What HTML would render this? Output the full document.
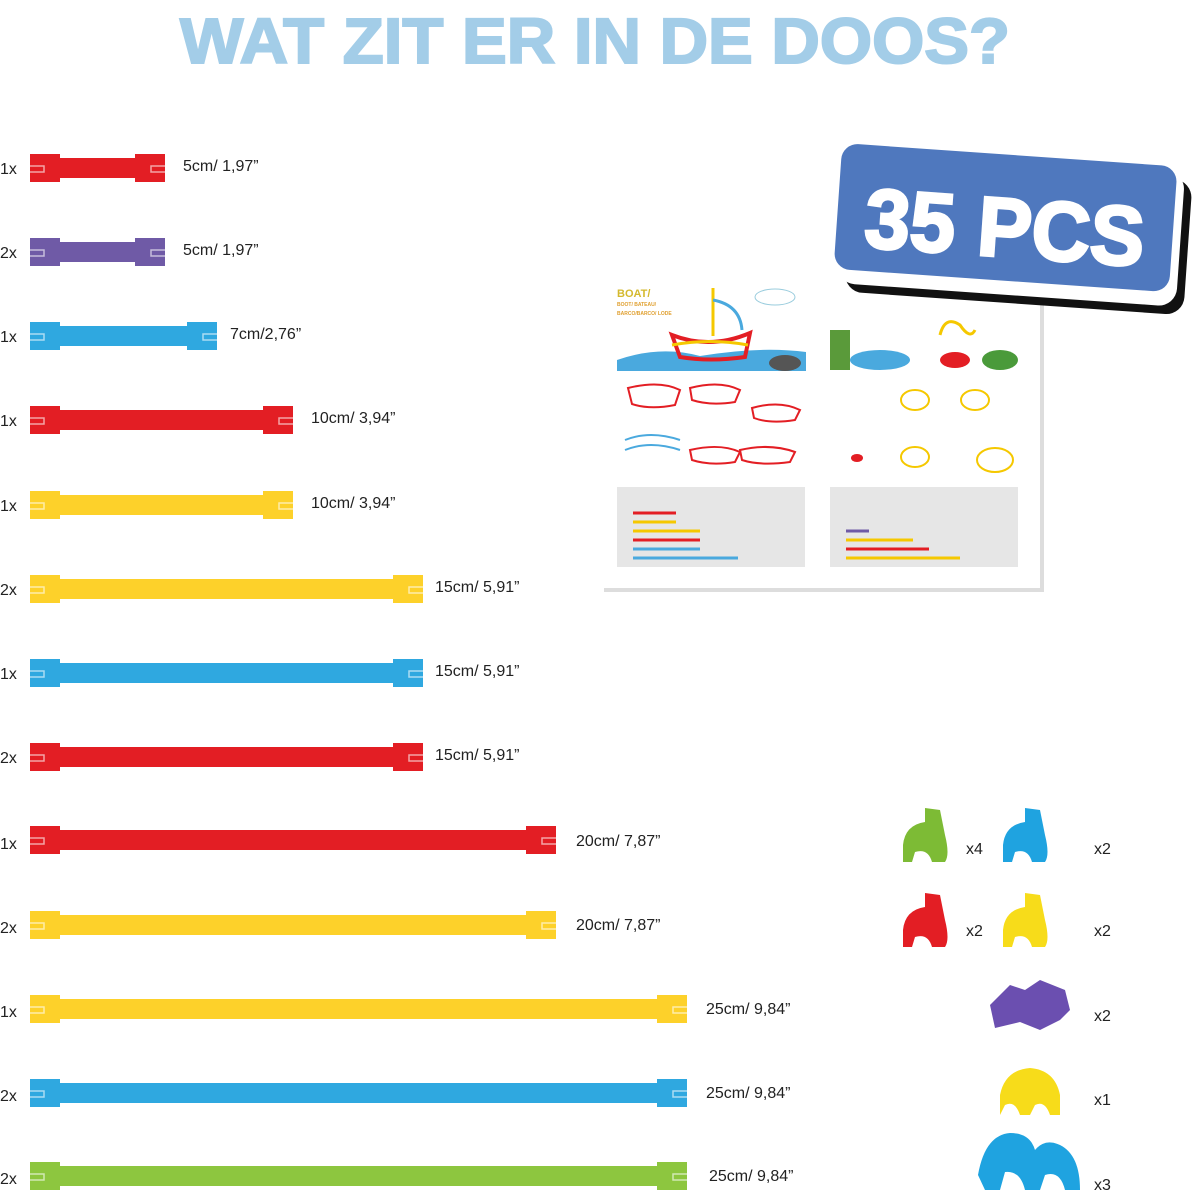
<!DOCTYPE html>
<html><head><meta charset="utf-8"><style>
html,body{margin:0;padding:0;background:#fff;}
svg{display:block}
</style></head><body>
<svg width="1199" height="1200" viewBox="0 0 1199 1200" xmlns="http://www.w3.org/2000/svg" font-family="Liberation Sans, sans-serif">
<rect width="1199" height="1200" fill="#fff"/>
<text x="595" y="63" text-anchor="middle" font-size="64" font-weight="bold" fill="#a3cde8" textLength="830" lengthAdjust="spacingAndGlyphs" stroke="#a3cde8" stroke-width="2">WAT ZIT ER IN DE DOOS?</text>

<!-- booklet -->
<rect x="604" y="272" width="440" height="320" fill="#ddd"/>
<rect x="600" y="268" width="440" height="320" fill="#fff"/>
<text x="617" y="297" font-size="11" font-weight="bold" fill="#d4b92e">BOAT/</text>
<text x="617" y="306" font-size="5" font-weight="bold" fill="#e0a030">BOOT/ BATEAU/</text>
<text x="617" y="315" font-size="5" font-weight="bold" fill="#e0a030">BARCO/BARCO/ LODE</text>
<path d="M617 360 Q660 345 700 356 Q760 346 806 352 L806 371 L617 371Z" fill="#4aa9de"/>
<path d="M672 335 Q710 350 750 333 L745 357 Q710 362 680 357Z" fill="none" stroke="#e31e24" stroke-width="4"/>
<path d="M672 345 Q710 338 748 345" fill="none" stroke="#f5c800" stroke-width="3"/>
<line x1="713" y1="288" x2="713" y2="336" stroke="#f5c800" stroke-width="3"/>
<path d="M713 300 Q740 305 742 330" fill="none" stroke="#4aa9de" stroke-width="3"/>
<ellipse cx="775" cy="297" rx="20" ry="8" fill="#fff" stroke="#9cd" />
<ellipse cx="785" cy="363" rx="16" ry="8" fill="#555"/>
<path d="M830 330 L850 330 L850 370 L830 370Z" fill="#5a9a3a"/>
<ellipse cx="880" cy="360" rx="30" ry="10" fill="#4aa9de"/>
<ellipse cx="955" cy="360" rx="15" ry="8" fill="#e31e24"/>
<path d="M940 335 Q945 315 960 325 Q970 340 975 330" fill="none" stroke="#f5c800" stroke-width="3"/>
<ellipse cx="1000" cy="360" rx="18" ry="10" fill="#4a9a3a"/>
<path d="M628 388 Q660 380 680 390 L675 405 Q650 410 632 404Z" fill="none" stroke="#e31e24" stroke-width="2"/>
<path d="M690 388 Q720 380 740 390 L735 402 Q710 406 692 400Z" fill="none" stroke="#e31e24" stroke-width="2"/>
<path d="M752 408 Q780 400 800 410 L795 420 Q770 424 754 418Z" fill="none" stroke="#e31e24" stroke-width="2"/>
<path d="M690 450 Q720 443 740 452 L735 462 Q710 466 692 460Z" fill="none" stroke="#e31e24" stroke-width="2"/>
<path d="M740 450 Q770 443 795 452 L790 462 Q760 466 742 460Z" fill="none" stroke="#e31e24" stroke-width="2"/>
<path d="M625 440 Q650 430 680 440 M625 450 Q650 440 680 450" fill="none" stroke="#4aa9de" stroke-width="2"/>
<ellipse cx="915" cy="400" rx="14" ry="10" fill="none" stroke="#f5c800" stroke-width="2"/>
<ellipse cx="975" cy="400" rx="14" ry="10" fill="none" stroke="#f5c800" stroke-width="2"/>
<ellipse cx="915" cy="457" rx="14" ry="10" fill="none" stroke="#f5c800" stroke-width="2"/>
<ellipse cx="995" cy="460" rx="18" ry="12" fill="none" stroke="#f5c800" stroke-width="2"/>
<ellipse cx="857" cy="458" rx="6" ry="4" fill="#e31e24"/>
<rect x="617" y="487" width="188" height="80" fill="#e6e6e6"/>
<rect x="830" y="487" width="188" height="80" fill="#e6e6e6"/>
<g stroke-width="3">
<line x1="633" y1="513" x2="676" y2="513" stroke="#e31e24"/>
<line x1="633" y1="522" x2="676" y2="522" stroke="#f5c800"/>
<line x1="633" y1="531" x2="700" y2="531" stroke="#f5c800"/>
<line x1="633" y1="540" x2="700" y2="540" stroke="#e31e24"/>
<line x1="633" y1="549" x2="700" y2="549" stroke="#4aa9de"/>
<line x1="633" y1="558" x2="738" y2="558" stroke="#4aa9de"/>
<line x1="846" y1="531" x2="869" y2="531" stroke="#6f5aa6"/>
<line x1="846" y1="540" x2="913" y2="540" stroke="#f5c800"/>
<line x1="846" y1="549" x2="929" y2="549" stroke="#e31e24"/>
<line x1="846" y1="558" x2="960" y2="558" stroke="#f5c800"/>
</g>

<!-- badge -->
<g transform="rotate(4 1010 240)">
<rect x="848" y="168" width="340" height="135" rx="18" fill="#111"/>
<rect x="840" y="160" width="340" height="135" rx="18" fill="#fff"/>
<rect x="836" y="155" width="336" height="126" rx="16" fill="#4f78be"/>
<text x="1004" y="257" text-anchor="middle" font-size="84" font-weight="bold" fill="#fff" stroke="#fff" stroke-width="3" textLength="280" lengthAdjust="spacingAndGlyphs">35 PCS</text>
</g>

<g font-size="16" fill="#222">
<g fill="#e31e24"><rect x="30" y="158" width="135" height="20"/><rect x="30" y="154" width="30" height="28"/><rect x="135" y="154" width="30" height="28"/></g>
<g fill="#6f5aa6"><rect x="30" y="242" width="135" height="20"/><rect x="30" y="238" width="30" height="28"/><rect x="135" y="238" width="30" height="28"/></g>
<g fill="#2fa8e0"><rect x="30" y="326" width="187" height="20"/><rect x="30" y="322" width="30" height="28"/><rect x="187" y="322" width="30" height="28"/></g>
<g fill="#e31e24"><rect x="30" y="410" width="263" height="20"/><rect x="30" y="406" width="30" height="28"/><rect x="263" y="406" width="30" height="28"/></g>
<g fill="#fdd12a"><rect x="30" y="495" width="263" height="20"/><rect x="30" y="491" width="30" height="28"/><rect x="263" y="491" width="30" height="28"/></g>
<g fill="#fdd12a"><rect x="30" y="579" width="393" height="20"/><rect x="30" y="575" width="30" height="28"/><rect x="393" y="575" width="30" height="28"/></g>
<g fill="#2fa8e0"><rect x="30" y="663" width="393" height="20"/><rect x="30" y="659" width="30" height="28"/><rect x="393" y="659" width="30" height="28"/></g>
<g fill="#e31e24"><rect x="30" y="747" width="393" height="20"/><rect x="30" y="743" width="30" height="28"/><rect x="393" y="743" width="30" height="28"/></g>
<g fill="#e31e24"><rect x="30" y="830" width="526" height="20"/><rect x="30" y="826" width="30" height="28"/><rect x="526" y="826" width="30" height="28"/></g>
<g fill="#fdd12a"><rect x="30" y="915" width="526" height="20"/><rect x="30" y="911" width="30" height="28"/><rect x="526" y="911" width="30" height="28"/></g>
<g fill="#fdd12a"><rect x="30" y="999" width="657" height="20"/><rect x="30" y="995" width="30" height="28"/><rect x="657" y="995" width="30" height="28"/></g>
<g fill="#2fa8e0"><rect x="30" y="1083" width="657" height="20"/><rect x="30" y="1079" width="30" height="28"/><rect x="657" y="1079" width="30" height="28"/></g>
<g fill="#8dc63f"><rect x="30" y="1166" width="657" height="20"/><rect x="30" y="1162" width="30" height="28"/><rect x="657" y="1162" width="30" height="28"/></g>
<g stroke="#fff" stroke-width="1.5" fill="none" opacity="0.6">
<path d="M30 166h14v6h-14M165 166h-14v6h14"/>
<path d="M30 250h14v6h-14M165 250h-14v6h14"/>
<path d="M30 334h14v6h-14M217 334h-14v6h14"/>
<path d="M30 418h14v6h-14M293 418h-14v6h14"/>
<path d="M30 503h14v6h-14M293 503h-14v6h14"/>
<path d="M30 587h14v6h-14M423 587h-14v6h14"/>
<path d="M30 671h14v6h-14M423 671h-14v6h14"/>
<path d="M30 755h14v6h-14M423 755h-14v6h14"/>
<path d="M30 838h14v6h-14M556 838h-14v6h14"/>
<path d="M30 923h14v6h-14M556 923h-14v6h14"/>
<path d="M30 1007h14v6h-14M687 1007h-14v6h14"/>
<path d="M30 1091h14v6h-14M687 1091h-14v6h14"/>
<path d="M30 1174h14v6h-14M687 1174h-14v6h14"/>
</g>
<text x="0" y="174">1x</text><text x="183" y="171">5cm/ 1,97”</text>
<text x="0" y="258">2x</text><text x="183" y="255">5cm/ 1,97”</text>
<text x="0" y="342">1x</text><text x="230" y="339">7cm/2,76”</text>
<text x="0" y="426">1x</text><text x="311" y="423">10cm/ 3,94”</text>
<text x="0" y="511">1x</text><text x="311" y="508">10cm/ 3,94”</text>
<text x="0" y="595">2x</text><text x="435" y="592">15cm/ 5,91”</text>
<text x="0" y="679">1x</text><text x="435" y="676">15cm/ 5,91”</text>
<text x="0" y="763">2x</text><text x="435" y="760">15cm/ 5,91”</text>
<text x="0" y="849">1x</text><text x="576" y="846">20cm/ 7,87”</text>
<text x="0" y="933">2x</text><text x="576" y="930">20cm/ 7,87”</text>
<text x="0" y="1017">1x</text><text x="706" y="1014">25cm/ 9,84”</text>
<text x="0" y="1101">2x</text><text x="706" y="1098">25cm/ 9,84”</text>
<text x="0" y="1184">2x</text><text x="709" y="1181">25cm/ 9,84”</text>

<path d="M903 845 Q905 825 925 822 L925 808 L940 810 L945 835 Q950 855 945 862 L932 862 Q928 848 915 852 L912 862 L903 862Z" fill="#7dbb35"/>
<path d="M1003 845 Q1005 825 1025 822 L1025 808 L1040 810 L1045 835 Q1050 855 1045 862 L1032 862 Q1028 848 1015 852 L1012 862 L1003 862Z" fill="#1fa3e0"/>
<path d="M903 930 Q905 910 925 907 L925 893 L940 895 L945 920 Q950 940 945 947 L932 947 Q928 933 915 937 L912 947 L903 947Z" fill="#e31e24"/>
<path d="M1003 930 Q1005 910 1025 907 L1025 893 L1040 895 L1045 920 Q1050 940 1045 947 L1032 947 Q1028 933 1015 937 L1012 947 L1003 947Z" fill="#f7dc1a"/>
<path d="M990 1005 L1010 985 L1025 990 L1040 980 L1065 990 L1070 1010 L1060 1020 L1040 1030 L1020 1022 L995 1028Z" fill="#6b4fb0"/>
<path d="M1000 1095 Q1005 1070 1030 1068 Q1055 1070 1060 1095 L1060 1115 L1050 1115 Q1045 1100 1035 1105 L1030 1115 L1020 1115 Q1015 1100 1005 1105 L1000 1115Z" fill="#f7dc1a"/>
<path d="M978 1175 Q985 1135 1010 1133 Q1030 1133 1035 1150 Q1045 1138 1060 1145 Q1080 1155 1080 1190 L1065 1190 Q1060 1170 1045 1175 L1040 1190 L1025 1190 Q1020 1170 1005 1172 L1000 1190 L985 1190Z" fill="#1fa3e0"/>
<text x="966" y="854">x4</text><text x="1094" y="854">x2</text>
<text x="966" y="936">x2</text><text x="1094" y="936">x2</text>
<text x="1094" y="1021">x2</text>
<text x="1094" y="1105">x1</text>
<text x="1094" y="1190">x3</text>
</g>
</svg>
</body></html>
